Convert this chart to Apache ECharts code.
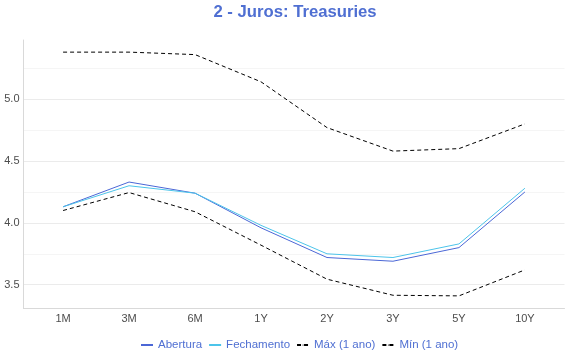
<!DOCTYPE html>
<html><head><meta charset="utf-8">
<script src="https://cdn.jsdelivr.net/npm/echarts@6/dist/echarts.min.js"></script>
<style>html,body{margin:0;padding:0;background:#fff}#c{width:570px;height:360px}</style>
</head><body><div id="c"></div>
<script>
const categories = ['1M','3M','6M','1Y','2Y','3Y','5Y','10Y'];
const abertura = [4.13,4.33,4.24,3.96,3.72,3.69,3.80,4.25];
const fechamento = [4.13,4.30,4.24,3.98,3.75,3.72,3.83,4.28];
const maxAno = [5.38,5.38,5.36,5.14,4.77,4.58,4.60,4.80];
const minAno = [4.10,4.245,4.09,3.82,3.545,3.415,3.41,3.62];
const yMajorTicks = [3.5,4.0,4.5,5.0];
const yMinorTicks = [3.75,4.25,4.75,5.25];
const seriesNames = ['Abertura','Fechamento','Máx (1 ano)','Mín (1 ano)'];

const toPts = arr => categories.map((c,i)=>[i, arr[i]]);
const font = 'Liberation Sans, Arial, sans-serif';
const chart = echarts.init(document.getElementById('c'), null, {renderer:'canvas'});
const yMin = 3.308, yMax = 5.478;
chart.setOption({
  animation:false,
  title:{text:'2 - Juros: Treasuries', left:290, top:-1, textAlign:'center',
    textStyle:{color:'#4f6fd2', fontSize:16.7, fontWeight:'bold', fontFamily:font}},
  grid:{left:23.5, right:5.5, top:40, bottom:51.5, containLabel:false},
  legend:{bottom:4, left:135, itemWidth:12, itemHeight:1.5, itemGap:6,
    textStyle:{color:'#4f6fd2', fontSize:11.5, fontFamily:font},
    data:seriesNames},
  xAxis:{type:'value', min:-0.6, max:7.6,
    axisLine:{show:true, onZero:false, lineStyle:{color:'#d9d9d9', width:1}},
    axisTick:{show:false, customValues:categories.map((c,i)=>i)},
    splitLine:{show:false},
    axisLabel:{customValues:categories.map((c,i)=>i), formatter:v=>categories[Math.round(v)],
      color:'#4d4d4d', fontSize:11, fontFamily:font, margin:5}},
  yAxis:[{type:'value', min:yMin, max:yMax,
    axisLine:{show:true, onZero:false, lineStyle:{color:'#d9d9d9', width:1}},
    axisTick:{show:false, customValues:yMajorTicks},
    splitLine:{show:true, lineStyle:{color:'#ebebeb', width:1}},
    axisLabel:{customValues:yMajorTicks, formatter:v=>v.toFixed(1), color:'#4d4d4d', fontSize:11, fontFamily:font, margin:4}},
   {type:'value', min:yMin, max:yMax, position:'left',
    axisLine:{show:false, onZero:false}, axisLabel:{show:false},
    axisTick:{show:false, customValues:yMinorTicks},
    splitLine:{show:true, lineStyle:{color:'#f5f5f5', width:1}}}],
  series:[
    {name:seriesNames[0], type:'line', data:toPts(abertura), symbol:'none', lineStyle:{color:'#4b67d6', width:1}, itemStyle:{color:'#4b67d6'}},
    {name:seriesNames[1], type:'line', data:toPts(fechamento), symbol:'none', lineStyle:{color:'#4cc4ea', width:1}, itemStyle:{color:'#4cc4ea'}},
    {name:seriesNames[2], type:'line', data:toPts(maxAno), symbol:'none', lineStyle:{color:'#000', width:1, type:[4,3]}, itemStyle:{color:'#000'}},
    {name:seriesNames[3], type:'line', data:toPts(minAno), symbol:'none', lineStyle:{color:'#000', width:1, type:[4,3]}, itemStyle:{color:'#000'}}
  ]
});
</script></body></html>
